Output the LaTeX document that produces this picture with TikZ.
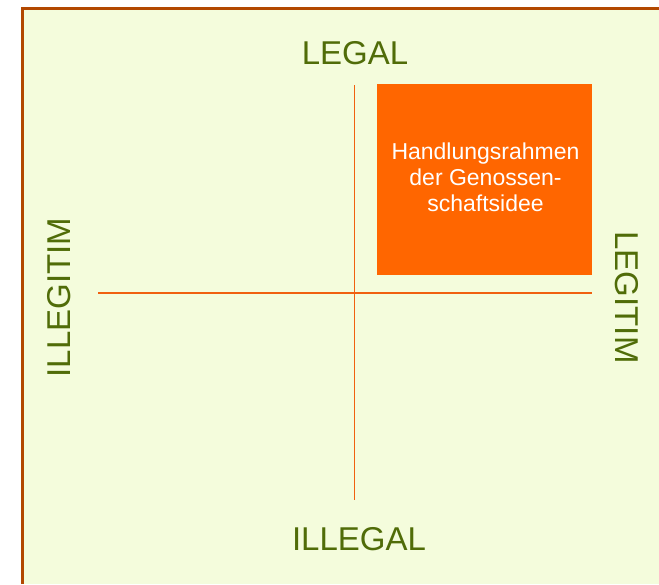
\documentclass[tikz,border=0pt]{standalone}
\usepackage{fontspec}
\setmainfont{Liberation Sans}
\definecolor{bgfill}{HTML}{F4FCDC}
\definecolor{frame}{HTML}{B24800}
\definecolor{axis}{HTML}{F06010}
\definecolor{boxorange}{HTML}{FF6600}
\definecolor{labelgreen}{RGB}{80,108,8}
\tikzset{
  axislabel/.style={text=labelgreen, font=\fontsize{33}{38}\selectfont, inner sep=0pt},
  axisline/.style={draw=axis, line width=1.4pt},
  framebox/.style={fill=boxorange, draw=none, minimum width=215pt, minimum height=191pt, inner sep=0pt},
}
\begin{document}
\begin{tikzpicture}[x=1pt,y=-1pt]
\useasboundingbox (0,0) rectangle (659,584);
% background panel
\fill[bgfill] (22,7) rectangle (659,584);
\draw[frame, line width=3pt] (22.5,584) -- (22.5,8.5) -- (659,8.5);
% box
\node[framebox, anchor=north west] (box) at (377,84) {};
\node[text=white, font=\fontsize{23}{26}\selectfont, align=center, inner sep=0pt] (boxtext) at (485.5,177) {Handlungsrahmen\\der Genossen-\\schaftsidee};
% axes
\coordinate (hl) at (98,293);
\coordinate (hr) at (592,293);
\coordinate (vt) at (354.5,85);
\coordinate (vb) at (354.5,500);
\draw[axisline] (hl) -- (hr);
\draw[axisline] (vt) -- (vb);
% labels
\node[axislabel] (legal) at (355,53) {LEGAL};
\node[axislabel] (illegal) at (359,539) {ILLEGAL};
\node[axislabel, rotate=90] (illegitim) at (59,297.5) {ILLEGITIM};
\node[axislabel, rotate=-90] (legitim) at (627,297.5) {LEGITIM};
\end{tikzpicture}
\end{document}
